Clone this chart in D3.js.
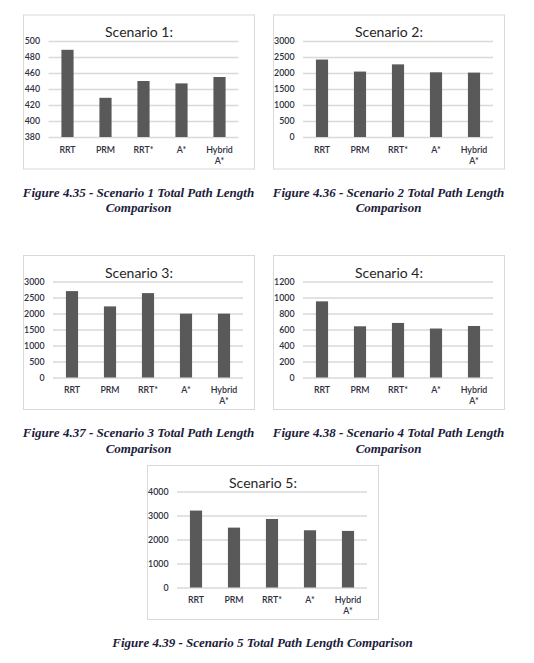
<!DOCTYPE html>
<html>
<head>
<meta charset="utf-8">
<script src="https://cdn.jsdelivr.net/npm/d3@7"></script>
<style>
  html, body { margin: 0; padding: 0; background: #fff; }
  svg { display: block; }
</style>
</head>
<body>
<div id="page"></div>
<script>
// categories shared by all five charts
const categories = ['RRT', 'PRM', 'RRT*', 'A*', 'Hybrid A*'];

// total path length per scenario
const scenario1Values = [489, 429, 450, 447, 455];
const scenario2Values = [2420, 2045, 2270, 2022, 2012];
const scenario3Values = [2700, 2222, 2637, 1995, 1995];
const scenario4Values = [952, 640, 682, 612, 644];
const scenario5Values = [3205, 2495, 2855, 2385, 2358];

// y axis ticks per scenario
const scenario1Ticks = [380, 400, 420, 440, 460, 480, 500];
const scenario2Ticks = [0, 500, 1000, 1500, 2000, 2500, 3000];
const scenario3Ticks = [0, 500, 1000, 1500, 2000, 2500, 3000];
const scenario4Ticks = [0, 200, 400, 600, 800, 1000, 1200];
const scenario5Ticks = [0, 1000, 2000, 3000, 4000];

const titles = ['Scenario 1:', 'Scenario 2:', 'Scenario 3:', 'Scenario 4:', 'Scenario 5:'];
const captions = [
    ['Figure 4.35 - Scenario 1 Total Path Length', 'Comparison'],
    ['Figure 4.36 - Scenario 2 Total Path Length', 'Comparison'],
    ['Figure 4.37 - Scenario 3 Total Path Length', 'Comparison'],
    ['Figure 4.38 - Scenario 4 Total Path Length', 'Comparison'],
    ['Figure 4.39 - Scenario 5 Total Path Length Comparison']
];

const W = 534, H = 663;
const textColor = '#2e2e3e';
const gridColor = '#d9d9d9';
const barColor = '#595959';
const sans = 'Lato, "Open Sans", sans-serif';

const svg = d3.select('#page')
    .append('svg')
    .attr('width', W)
    .attr('height', H);

// chart box positions on the page
const boxes = [
    {x: 23, y: 14.5},
    {x: 273, y: 14.5},
    {x: 23, y: 255},
    {x: 273, y: 255},
    {x: 147, y: 465}
];
const boxW = 231, boxH = 154;

const allValues = [scenario1Values, scenario2Values, scenario3Values, scenario4Values, scenario5Values];
const allTicks = [scenario1Ticks, scenario2Ticks, scenario3Ticks, scenario4Ticks, scenario5Ticks];

function drawChart(i) {
    const box = boxes[i];
    const values = allValues[i];
    const ticks = allTicks[i];

    const g = svg.append('g')
        .attr('transform', `translate(${box.x},${box.y})`);

    // outer border
    g.append('rect')
        .attr('x', 0.5)
        .attr('y', 0.5)
        .attr('width', boxW)
        .attr('height', boxH)
        .attr('fill', '#fff')
        .attr('stroke', gridColor)
        .attr('stroke-width', 1);

    // title
    g.append('text')
        .attr('x', boxW / 2 + 0.5)
        .attr('y', 22.5)
        .attr('text-anchor', 'middle')
        .style('font-family', sans)
        .style('font-size', '14px')
        .style('fill', '#262626')
        .text(titles[i]);

    // plot area
    const maxLen = d3.max(ticks, t => String(t).length);
    const left = maxLen > 3 ? 30 : 25.5;
    const top = 26.5;
    const width = 190;
    const height = 96;

    const plot = g.append('g')
        .attr('transform', `translate(${left},${top})`);

    const x = d3.scaleBand()
        .domain(categories)
        .range([0, width])
        .paddingInner(0.68)
        .paddingOuter(0.34);

    const y = d3.scaleLinear()
        .domain([ticks[0], ticks[ticks.length - 1]])
        .range([height, 0]);

    // grid lines
    const grid = plot.append('g')
        .call(d3.axisLeft(y)
            .tickValues(ticks)
            .tickSize(-width)
            .tickFormat(''));
    grid.select('.domain').remove();
    grid.selectAll('.tick line')
        .attr('stroke', gridColor)
        .attr('stroke-width', 1.3);

    // y tick labels
    const yAxis = plot.append('g')
        .call(d3.axisLeft(y)
            .tickValues(ticks)
            .tickFormat(d3.format('d'))
            .tickSize(0)
            .tickPadding(8.5));
    yAxis.select('.domain').remove();
    yAxis.selectAll('text')
        .style('font-family', sans)
        .style('font-size', '8.8px')
        .style('font-weight', '600')
        .style('fill', textColor);

    // bars
    plot.selectAll('.bar')
        .data(values)
        .enter()
        .append('rect')
        .attr('class', 'bar')
        .attr('x', (d, j) => x(categories[j]))
        .attr('y', d => y(d))
        .attr('width', x.bandwidth())
        .attr('height', d => y(ticks[0]) - y(d))
        .attr('fill', barColor);

    // category labels (may wrap onto two lines)
    const catLabels = plot.selectAll('.cat')
        .data(categories)
        .enter()
        .append('text')
        .attr('class', 'cat')
        .attr('text-anchor', 'middle')
        .style('font-family', sans)
        .style('font-size', '8.8px')
        .style('font-weight', '600')
        .style('fill', textColor);
    catLabels.each(function(d) {
        const t = d3.select(this);
        const cx = x(d) + x.bandwidth() / 2;
        d.split(' ').forEach((word, k) => {
            t.append('tspan')
                .attr('x', cx)
                .attr('y', height + 15.5 + k * 11.3)
                .text(word);
        });
    });

    // caption under the box
    const cap = svg.append('text')
        .attr('text-anchor', 'middle')
        .style('font-family', '"Liberation Serif", "Times New Roman", serif')
        .style('font-weight', 'bold')
        .style('font-style', 'italic')
        .style('font-size', '13px')
        .style('fill', '#1c1c3c');
    captions[i].forEach((line, k) => {
        cap.append('tspan')
            .attr('x', box.x + boxW / 2)
            .attr('y', box.y + boxH + 28 + k * 15.5)
            .text(line);
    });
}

for (let i = 0; i < 5; i++) drawChart(i);
</script>
</body>
</html>
